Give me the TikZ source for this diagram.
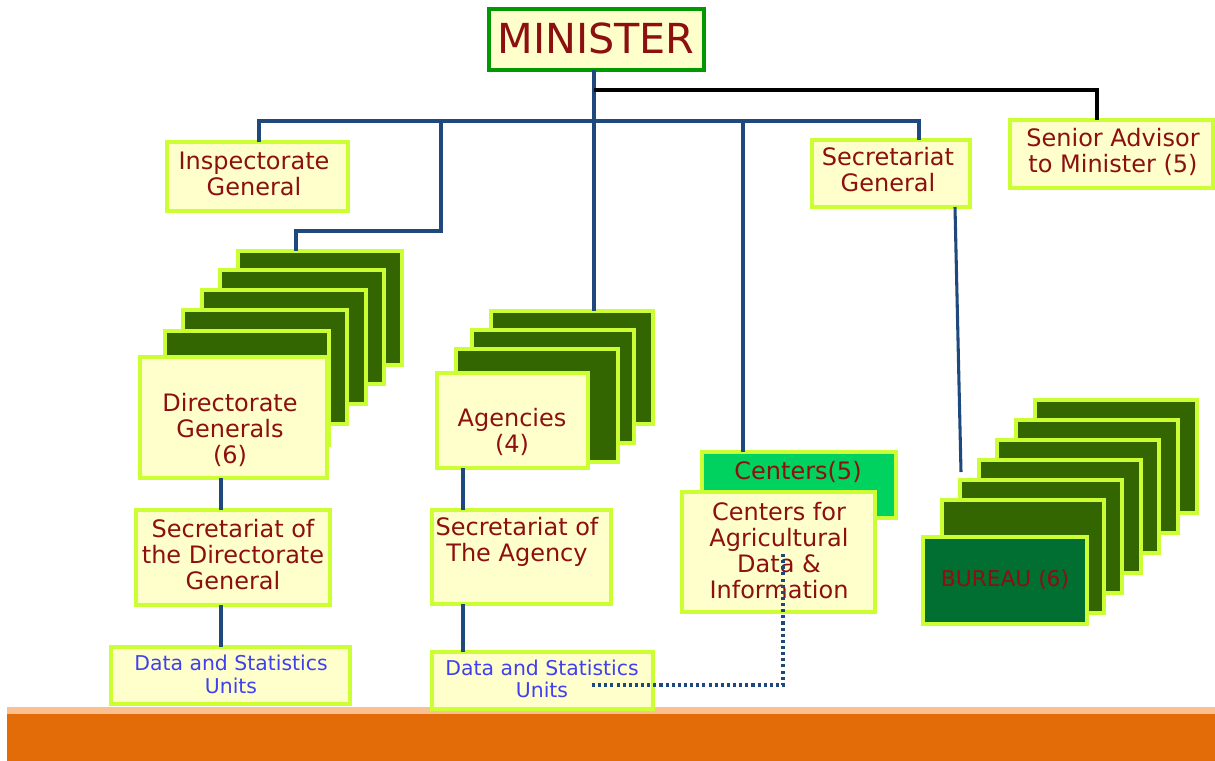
\documentclass[tikz,border=0pt]{standalone}
\usepackage{fontspec}
\setmainfont{DejaVu Sans}
\definecolor{yel}{HTML}{FFFFCC}
\definecolor{lime}{HTML}{CCFF33}
\definecolor{dgreen}{HTML}{336600}
\definecolor{mgreen}{HTML}{009900}
\definecolor{cgreen}{HTML}{00D25F}
\definecolor{bgreen}{HTML}{006F31}
\definecolor{tred}{RGB}{140,16,16}
\definecolor{tblue}{RGB}{64,64,240}
\definecolor{lnblue}{HTML}{1F497D}
\definecolor{orng}{HTML}{E36C09}
\definecolor{lorng}{HTML}{FAC090}
\newcommand\mkbox[7]{%
  \pgfmathsetmacro\bw{(#5-#3)*0.75}\pgfmathsetmacro\bh{(#6-#4)*0.75}%
  \node[#2, minimum width=\bw pt, minimum height=\bh pt] (#1) at ({(#3+#5)/2},{(#4+#6)/2}) {#7};}
\tikzset{
  base/.style={rectangle, inner sep=0pt, outer sep=0pt, line width=3pt},
  ybox/.style={base, draw=lime, fill=yel},
  dbox/.style={base, draw=lime, fill=dgreen},
  cbox/.style={base, draw=lime, fill=cgreen},
  bbox/.style={base, draw=lime, fill=bgreen},
  mbox/.style={base, draw=mgreen, fill=yel},
  lbl/.style={text=tred, align=center, font=\fontsize{18}{19.5}\selectfont, inner sep=0pt},
  sml/.style={text=tblue, align=center, font=\fontsize{15.3}{17}\selectfont, inner sep=0pt},
  conn/.style={draw=lnblue, line width=2.3pt},
  dots/.style={draw=lnblue, line width=2.3pt, dash pattern=on 2.3pt off 2.3pt},
}
\begin{document}
\begin{tikzpicture}[x=0.75pt, y=-0.75pt]
\useasboundingbox (0,0) rectangle (1215,761);
% bottom band
\fill[lorng] (7,707) rectangle (1215,714);
\fill[orng] (7,714) rectangle (1215,761);

% connectors (behind boxes)
\coordinate (hub) at (594,121);
\coordinate (blk) at (594,90);
\coordinate (bend) at (441,231);
\coordinate (sgend) at (961,472);

% top boxes
\mkbox{min}{mbox}{489}{9}{704}{70}{}
\node[lbl, font=\fontsize{31}{34}\selectfont] (mint) at (596,38) {MINISTER};
\mkbox{insp}{ybox}{167}{142}{348}{211}{}
\node[lbl] (inspt) at (254,174) {Inspectorate\\General};
\mkbox{sg}{ybox}{812}{140}{970}{207}{}
\node[lbl] (sgt) at (888,170) {Secretariat\\General};
\mkbox{adv}{ybox}{1010}{120}{1213}{188}{}
\node[lbl] (advt) at (1113,152) {Senior Advisor\\to Minister (5)};

% DG stack
\foreach \x/\y [count=\i] in {238/251,220/270,202/290,183/310,165/331}{
  \mkbox{dg\i}{dbox}{\x}{\y}{\x+164}{\y+114}{}
}
\mkbox{dg}{ybox}{140}{357}{327}{478}{}
\node[lbl] (dgt) at (230,430) {Directorate\\Generals\\(6)};

% Agencies stack
\foreach \x/\y [count=\i] in {491/311,472/330,456/349}{
  \mkbox{ag\i}{dbox}{\x}{\y}{\x+162}{\y+113}{}
}
\mkbox{ag}{ybox}{437}{373}{588}{468}{}
\node[lbl] (agt) at (512,432) {Agencies\\(4)};

% Centers
\mkbox{cen5}{cbox}{702}{452}{896}{518}{}
\node[lbl] (cen5t) at (798,472) {Centers(5)};
\mkbox{cen}{ybox}{682}{492}{875}{612}{}

% Bureau stack
\foreach \x/\y [count=\i] in {1035/400,1016/420,997/440,979/460,960/480,942/500}{
  \mkbox{bu\i}{dbox}{\x}{\y}{\x+162}{\y+113}{}
}
\mkbox{bu}{bbox}{923}{537}{1087}{624}{}
\node[lbl, font=\fontsize{16.3}{18}\selectfont] (but) at (1005,580) {BUREAU (6)};

% lower boxes
\mkbox{sdg}{ybox}{136}{510}{330}{605}{}
\node[lbl] (sdgt) at (233,555) {Secretariat of\\the Directorate\\General};
\mkbox{sag}{ybox}{432}{510}{611}{604}{}
\node[lbl] (sagt) at (517,542) {Secretariat of\\The Agency};
\mkbox{dsu1}{ybox}{111}{647}{350}{704}{}
\node[sml] (dsu1t) at (231,674.5) {Data and Statistics\\Units};
\mkbox{dsu2}{ybox}{432}{652}{653}{709}{}
\node[sml] (dsu2t) at (542,679) {Data and Statistics\\Units};

% connectors
\draw[conn] (min.south -| hub) -- (ag1.north -| hub);
\draw[conn] (insp.north -| 259,0) -- (259,121) -- (919,121) -- (sg.north -| 919,0);
\draw[conn] (bend |- hub) -- (bend) -- (296,231) -- (dg1.north -| 296,0);
\draw[conn] (743,121) -- (cen5.north -| 743,0);
\draw[line width=2.3pt, black] (blk) -- (1097,90) -- (adv.north -| 1097,0);
\draw[conn] (sg.south -| 955,0) -- (sgend);
\draw[conn] (dg.south -| 221,0) -- (sdg.north -| 221,0);
\draw[conn] (sdg.south -| 221,0) -- (dsu1.north -| 221,0);
\draw[conn] (ag.south -| 463,0) -- (sag.north -| 463,0);
\draw[conn] (sag.south -| 463,0) -- (dsu2.north -| 463,0);
% centers text above box
\node[lbl] (cent) at (779,551) {Centers for\\Agricultural\\Data \&\\Information};
\coordinate (dA) at (592,685);
\coordinate (dB) at (783,553);
\draw[dots] (dA) -| (dB);
\end{tikzpicture}
\end{document}
